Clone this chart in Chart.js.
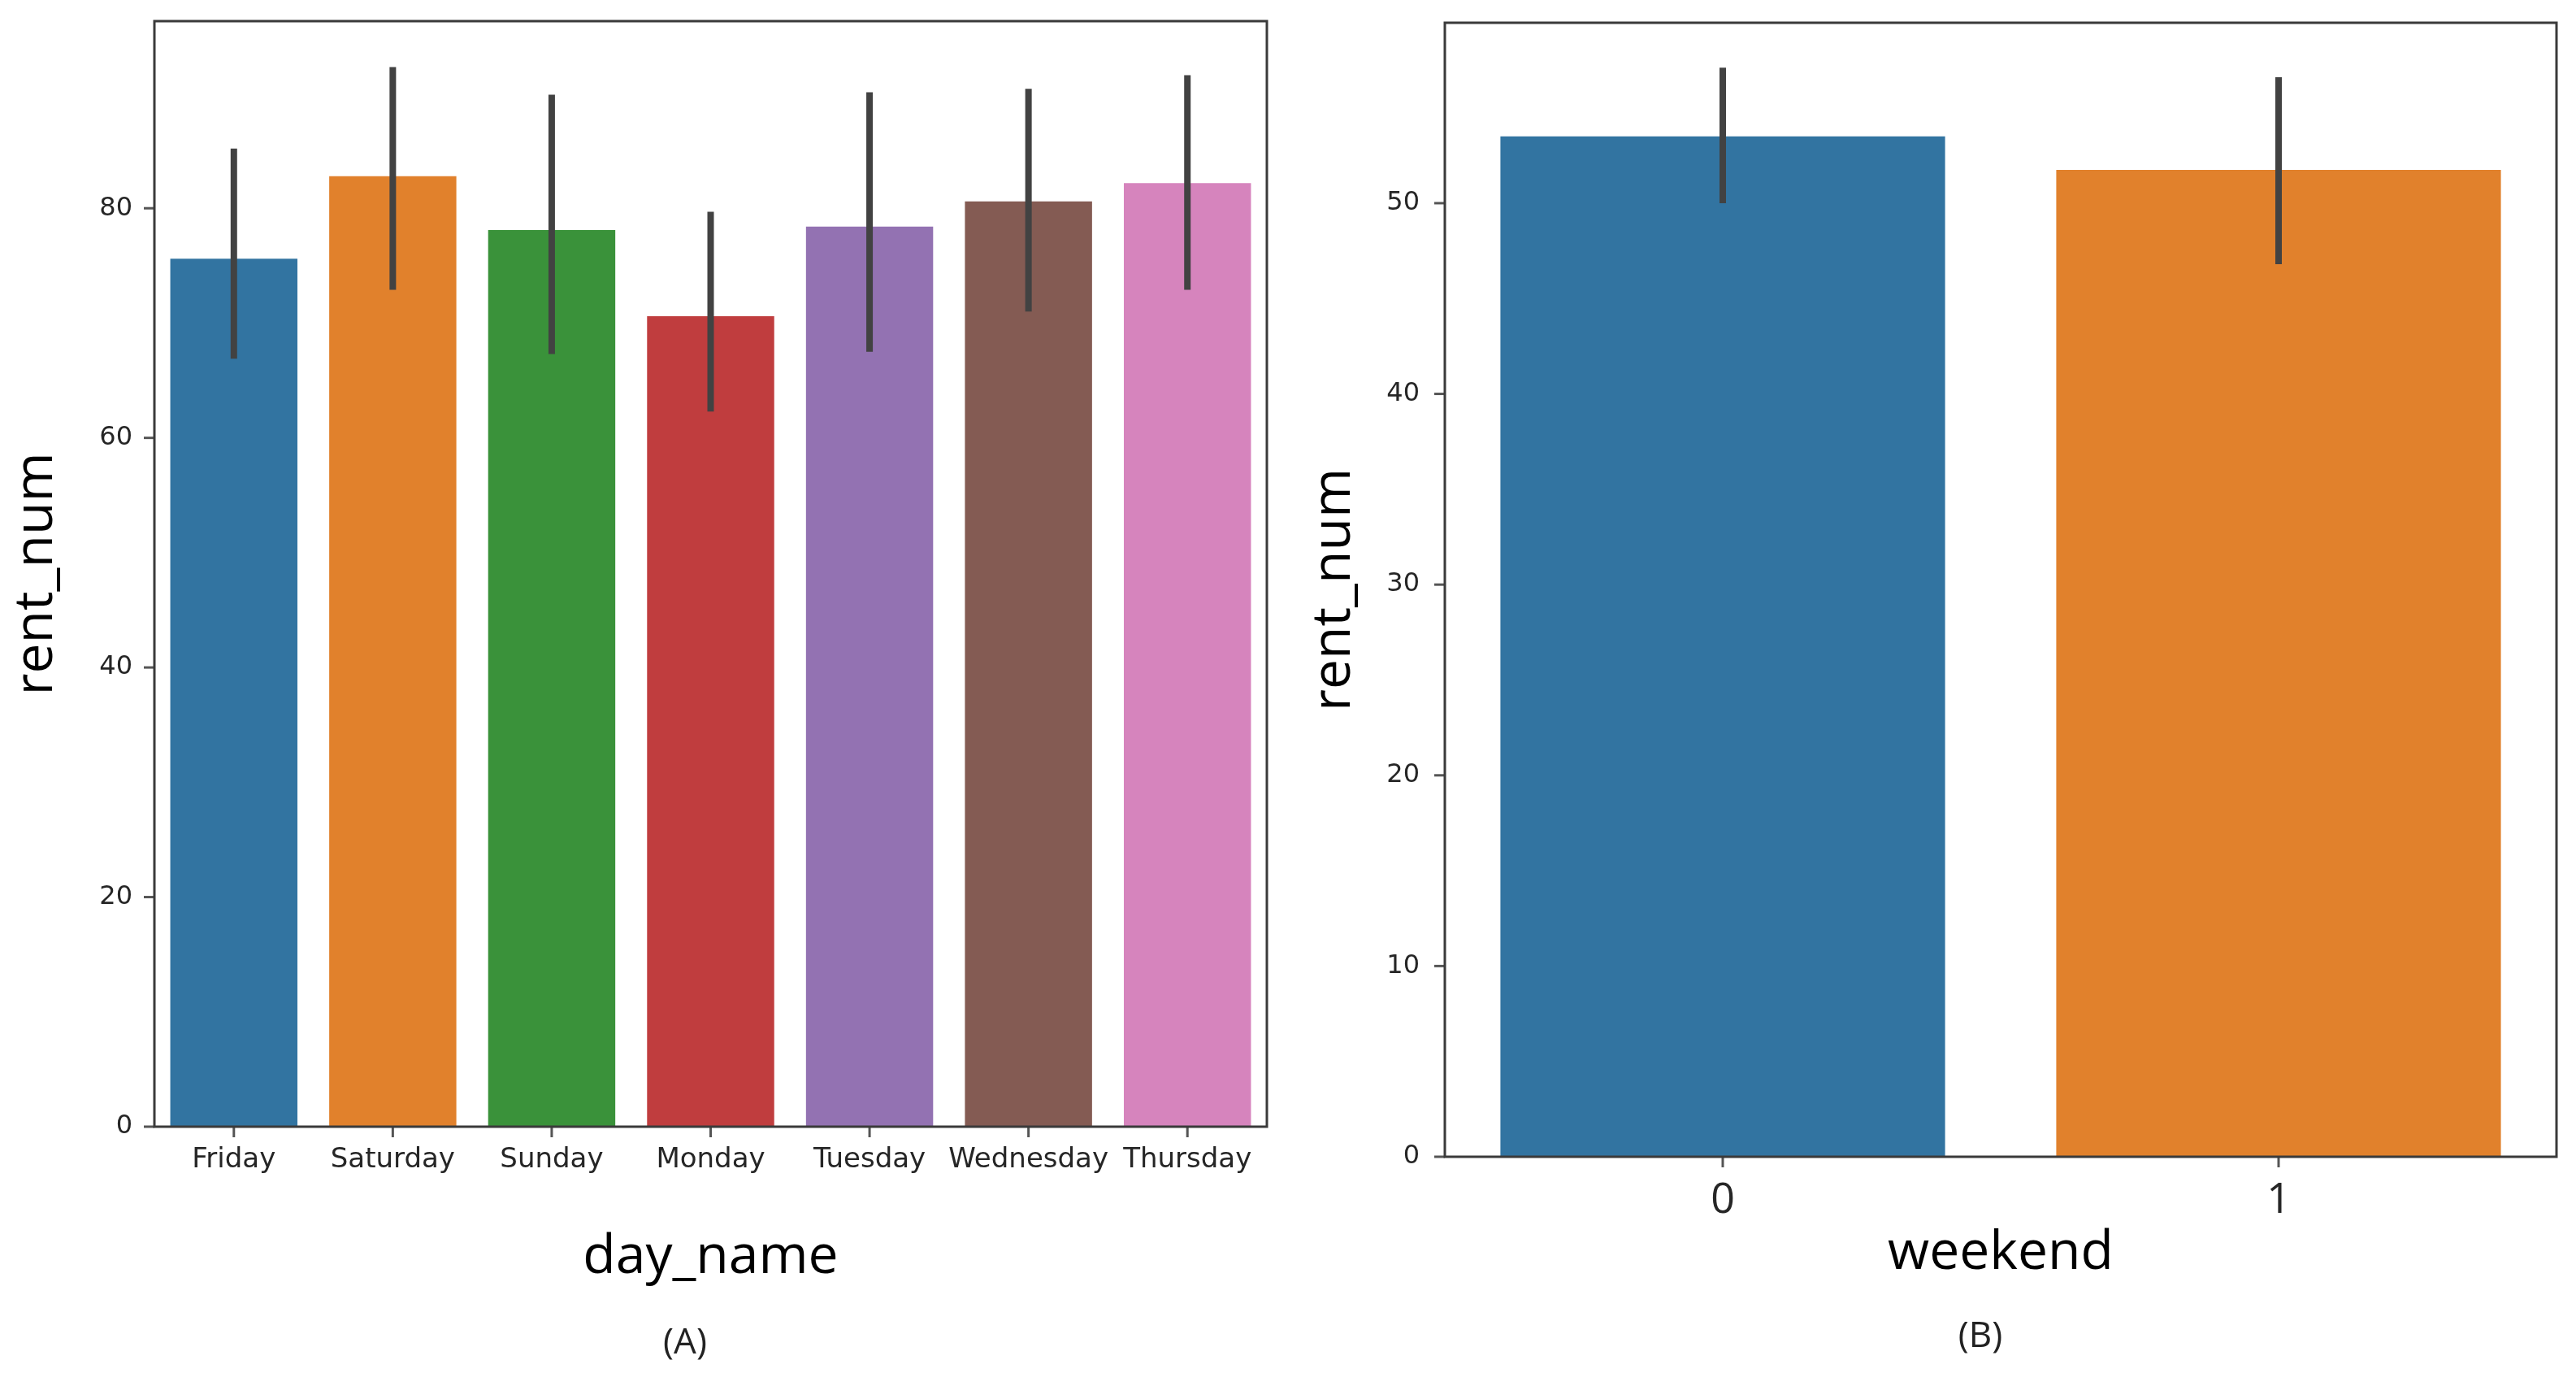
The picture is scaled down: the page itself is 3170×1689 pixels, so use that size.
<!DOCTYPE html>
<html>
<head>
<meta charset="utf-8">
<script src="https://cdn.jsdelivr.net/npm/chart.js"></script>
<style>
    body { margin: 0; background: #fff; width: 3170px; height: 1689px; position: relative; overflow: hidden; }
    #chartA { position: absolute; left: 0; top: 0; }
    #chartB { position: absolute; left: 1580px; top: 0; }
    .caption { position: absolute; font-family: "Open Sans", sans-serif; font-size: 44px; color: #222; transform: translate(-50%, -50%); }
</style>
</head>
<body>
<canvas id="chartA" width="1580" height="1689"></canvas>
<canvas id="chartB" width="1590" height="1689"></canvas>
<div class="caption" style="left: 843px; top: 1648px;">(A)</div>
<div class="caption" style="left: 2437px; top: 1640px;">(B)</div>
<script>
// (A) rent_num by day_name
var dayNames = ['Friday', 'Saturday', 'Sunday', 'Monday', 'Tuesday', 'Wednesday', 'Thursday'];
var dayRent = [75.6, 82.8, 78.1, 70.6, 78.4, 80.6, 82.2];
var dayLow = [66.9, 72.9, 67.3, 62.3, 67.5, 71.0, 72.9];
var dayHigh = [85.2, 92.3, 89.9, 79.7, 90.1, 90.4, 91.6];
var dayTicks = [0, 20, 40, 60, 80];

// (B) rent_num by weekend
var weekendNames = ['0', '1'];
var weekendRent = [53.5, 51.75];
var weekendLow = [50.0, 46.8];
var weekendHigh = [57.1, 56.6];
var weekendTicks = [0, 10, 20, 30, 40, 50];

var dayColors = ['#3274a1', '#e1812c', '#3a923a', '#c03d3e', '#9372b2', '#845b53', '#d684bd'];
var weekendColors = ['#3274a1', '#e1812c'];

// draws the error bars, the axes box and the tick marks
var framePlugin = {
    id: 'frame',
    afterDatasetsDraw: function (chart) {
        let ctx = chart.ctx;
        let x = chart.scales.x;
        let y = chart.scales.y;
        let low = chart.options.errLow;
        let high = chart.options.errHigh;
        ctx.save();
        ctx.strokeStyle = '#424242';
        ctx.lineWidth = 8;
        for (let i = 0; i < low.length; i++) {
            let px = x.getPixelForValue(i);
            ctx.beginPath();
            ctx.moveTo(px, y.getPixelForValue(low[i]));
            ctx.lineTo(px, y.getPixelForValue(high[i]));
            ctx.stroke();
        }
        let a = chart.chartArea;
        ctx.strokeStyle = '#555';
        ctx.lineWidth = 3;
        y.ticks.forEach(t => {
            let py = y.getPixelForValue(t.value);
            ctx.beginPath();
            ctx.moveTo(a.left - 13, py);
            ctx.lineTo(a.left, py);
            ctx.stroke();
        });
        for (let i = 0; i < low.length; i++) {
            let px = x.getPixelForValue(i);
            ctx.beginPath();
            ctx.moveTo(px, a.bottom);
            ctx.lineTo(px, a.bottom + 13);
            ctx.stroke();
        }
        ctx.strokeStyle = '#3a3a3a';
        ctx.strokeRect(a.left, a.top, a.right - a.left, a.bottom - a.top);
        ctx.restore();
    }
};

function makeChart(id, labels, values, colors, low, high, ticks, yMax, opts) {
    return new Chart(document.getElementById(id), {
        type: 'bar',
        data: {
            labels: labels,
            datasets: [{
                data: values,
                backgroundColor: colors,
                borderWidth: 0,
                barPercentage: 0.8,
                categoryPercentage: 1.0
            }]
        },
        plugins: [framePlugin],
        options: {
            responsive: false,
            animation: false,
            devicePixelRatio: 1,
            errLow: low,
            errHigh: high,
            layout: { padding: { top: opts.top, right: opts.right, left: 0, bottom: 0 } },
            plugins: { legend: { display: false }, tooltip: { enabled: false } },
            scales: {
                x: {
                    grid: { display: false, drawTicks: false },
                    border: { display: false },
                    ticks: {
                        padding: opts.xTickPad,
                        color: '#262626',
                        maxRotation: 0,
                        autoSkip: false,
                        font: { family: opts.xTickFamily, size: opts.xTickSize }
                    },
                    title: {
                        display: true,
                        text: opts.xTitle,
                        color: '#000',
                        font: { family: 'Open Sans', size: 66 },
                        padding: { top: 0, bottom: opts.xTitlePad }
                    },
                    afterFit: function (scale) {
                        scale.height = opts.xHeight;
                        scale.paddingLeft = 0;
                        scale.paddingRight = 0;
                    }
                },
                y: {
                    min: 0,
                    max: yMax,
                    grid: { display: false, drawTicks: false },
                    border: { display: false },
                    afterBuildTicks: function (scale) {
                        scale.ticks = ticks.map(v => ({ value: v }));
                    },
                    ticks: {
                        padding: opts.yTickPad,
                        color: '#262626',
                        font: { family: 'DejaVu Sans', size: 32 }
                    },
                    title: {
                        display: true,
                        text: 'rent_num',
                        color: '#000',
                        font: { family: 'Open Sans', size: 66 },
                        padding: { top: opts.yTitlePad, bottom: 0 }
                    },
                    afterFit: function (scale) {
                        scale.width = opts.yWidth;
                        scale.paddingTop = 0;
                        scale.paddingBottom = 0;
                    }
                }
            }
        }
    });
}

makeChart('chartA', dayNames, dayRent, dayColors, dayLow, dayHigh, dayTicks, 96.3, {
    top: 26, right: 21, yWidth: 190, xHeight: 303,
    xTickPad: 21, xTickSize: 34, xTickFamily: 'DejaVu Sans',
    xTitle: 'day_name', xTitlePad: 102, yTickPad: 27, yTitlePad: 6
});

makeChart('chartB', weekendNames, weekendRent, weekendColors, weekendLow, weekendHigh, weekendTicks, 59.46, {
    top: 28, right: 24, yWidth: 198, xHeight: 266,
    xTickPad: 23, xTickSize: 52, xTickFamily: 'Open Sans',
    xTitle: 'weekend', xTitlePad: 107, yTickPad: 31, yTitlePad: 23
});
</script>
</body>
</html>
